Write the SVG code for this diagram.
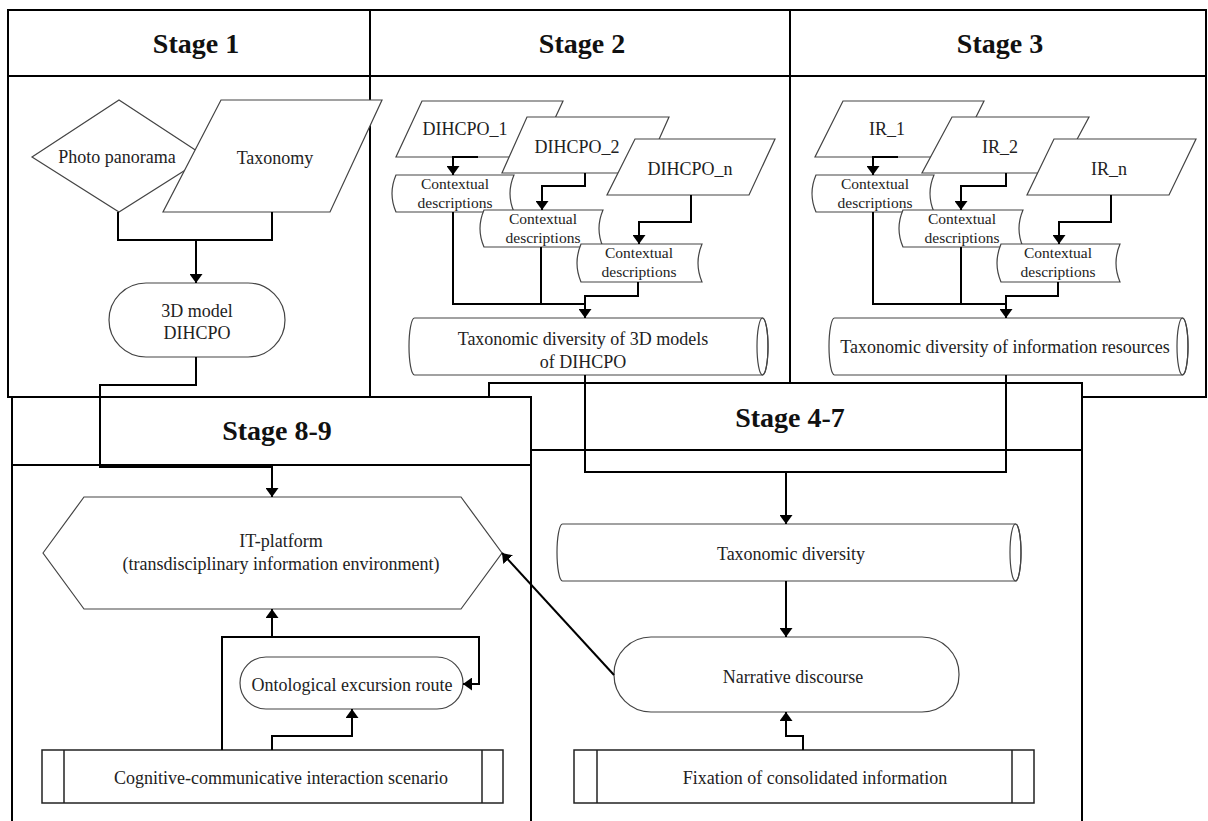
<svg xmlns="http://www.w3.org/2000/svg" width="1208" height="821" viewBox="0 0 1208 821">
<style>
.frame{fill:#fff;stroke:#000;stroke-width:2}
.hl{fill:none;stroke:#000;stroke-width:2}
.shape{fill:#fff;stroke:#444;stroke-width:1.2}
.pp{fill:#fff;stroke:#222;stroke-width:1.5}
.conn{fill:none;stroke:#000;stroke-width:2}
.title{font-family:"Liberation Serif",serif;font-weight:bold;font-size:28px;fill:#111;text-anchor:middle}
.lbl{font-family:"Liberation Serif",serif;font-size:18px;fill:#222;text-anchor:middle}
.sm{font-family:"Liberation Serif",serif;font-size:15.5px;fill:#222;text-anchor:middle}
</style>
<defs>
<marker id="arr" viewBox="0 0 10 10" refX="10" refY="5" markerWidth="9" markerHeight="13" markerUnits="userSpaceOnUse" orient="auto" preserveAspectRatio="none">
<path d="M0,0 L10,5 L0,10 Z" fill="#000"/>
</marker>
</defs>
<rect width="1208" height="821" fill="#fff"/>

<g id="stage1">
<rect class="frame" x="8" y="10" width="362" height="387"/>
<line class="hl" x1="8" y1="76" x2="370" y2="76"/>
<text class="title" x="196" y="53">Stage 1</text>
</g>
<g id="stage2">
<rect class="frame" x="370" y="10" width="420" height="387"/>
<line class="hl" x1="370" y1="76" x2="790" y2="76"/>
<text class="title" x="582" y="53">Stage 2</text>
</g>
<g id="stage3">
<rect class="frame" x="790" y="10" width="416" height="387"/>
<line class="hl" x1="790" y1="76" x2="1206" y2="76"/>
<text class="title" x="1000" y="53">Stage 3</text>
</g>
<g id="stage4-7">
<rect class="frame" x="489" y="383" width="593" height="450"/>
<line class="hl" x1="489" y1="450" x2="1082" y2="450"/>
<text class="title" x="790" y="427">Stage 4-7</text>
</g>
<g id="stage8-9">
<rect class="frame" x="12" y="397" width="519" height="436"/>
<line class="hl" x1="12" y1="465" x2="531" y2="465"/>
<text class="title" x="277" y="440">Stage 8-9</text>
</g>

<g id="photo-panorama">
<polygon class="shape" points="32,157 119,100 206,157 119,212"/>
<text class="lbl" x="117" y="163">Photo panorama</text>
</g>
<g id="taxonomy">
<polygon class="shape" points="221,100 382,100 330,212 163,212"/>
<text class="lbl" x="275" y="164">Taxonomy</text>
</g>
<g id="model-dihcpo">
<rect class="shape" x="109" y="283" width="176" height="74" rx="37" ry="37"/>
<text class="lbl" x="197" y="317">3D model</text>
<text class="lbl" x="197" y="339">DIHCPO</text>
</g>

<g id="dihcpo1">
<polygon class="shape" points="422,101 563,101 537,157 396,157"/>
<text class="lbl" x="465" y="135">DIHCPO_1</text>
</g>
<g id="dihcpo2">
<polygon class="shape" points="527,117 669,117 644,173 502,173"/>
<text class="lbl" x="577" y="153">DIHCPO_2</text>
</g>
<g id="dihcpon">
<polygon class="shape" points="635,139 775,139 749,195 607,195"/>
<text class="lbl" x="690" y="175">DIHCPO_n</text>
</g>
<g id="cd-s2-1">
<path class="shape" d="M396,175 H514 Q506,193.5 514,212 H396 Q388,193.5 396,175 Z"/>
<text class="sm" x="455" y="189">Contextual</text>
<text class="sm" x="455" y="208">descriptions</text>
</g>
<g id="cd-s2-2">
<path class="shape" d="M484,210 H603 Q595,228.5 603,247 H484 Q476,228.5 484,210 Z"/>
<text class="sm" x="543" y="224">Contextual</text>
<text class="sm" x="543" y="243">descriptions</text>
</g>
<g id="cd-s2-3">
<path class="shape" d="M581,244 H702 Q694,263 702,282 H581 Q573,263 581,244 Z"/>
<text class="sm" x="639" y="258">Contextual</text>
<text class="sm" x="639" y="277">descriptions</text>
</g>
<g id="tax-3d">
<path class="shape" d="M414.5,318 H762.5 A5.5,28.5 0 0 1 762.5,375 H414.5 A5.5,28.5 0 0 1 414.5,318 Z"/>
<ellipse cx="762.5" cy="346.5" rx="5.5" ry="28.5" fill="none" stroke="#444" stroke-width="1.2"/>
<text class="lbl" x="583" y="345">Taxonomic diversity of 3D models</text>
<text class="lbl" x="583" y="368">of  DIHCPO</text>
</g>

<g id="ir1">
<polygon class="shape" points="843,101 984,101 956,157 815,157"/>
<text class="lbl" x="887" y="135">IR_1</text>
</g>
<g id="ir2">
<polygon class="shape" points="952,117 1089,117 1059,173 922,173"/>
<text class="lbl" x="1000" y="153">IR_2</text>
</g>
<g id="irn">
<polygon class="shape" points="1054,139 1196,139 1169,195 1027,195"/>
<text class="lbl" x="1109" y="175">IR_n</text>
</g>
<g id="cd-s3-1">
<path class="shape" d="M816,175 H934 Q926,193.5 934,212 H816 Q808,193.5 816,175 Z"/>
<text class="sm" x="875" y="189">Contextual</text>
<text class="sm" x="875" y="208">descriptions</text>
</g>
<g id="cd-s3-2">
<path class="shape" d="M903,210 H1023 Q1015,228.5 1023,247 H903 Q895,228.5 903,210 Z"/>
<text class="sm" x="962" y="224">Contextual</text>
<text class="sm" x="962" y="243">descriptions</text>
</g>
<g id="cd-s3-3">
<path class="shape" d="M1001,244 H1120 Q1112,263 1120,282 H1001 Q993,263 1001,244 Z"/>
<text class="sm" x="1058" y="258">Contextual</text>
<text class="sm" x="1058" y="277">descriptions</text>
</g>
<g id="tax-ir">
<path class="shape" d="M834.5,318 H1182.5 A5.5,28.5 0 0 1 1182.5,375 H834.5 A5.5,28.5 0 0 1 834.5,318 Z"/>
<ellipse cx="1182.5" cy="346.5" rx="5.5" ry="28.5" fill="none" stroke="#444" stroke-width="1.2"/>
<text class="lbl" x="1005" y="353">Taxonomic diversity of information resources</text>
</g>

<g id="tax-div">
<path class="shape" d="M562.5,524 H1015.5 A5.5,28.5 0 0 1 1015.5,581 H562.5 A5.5,28.5 0 0 1 562.5,524 Z"/>
<ellipse cx="1015.5" cy="552.5" rx="5.5" ry="28.5" fill="none" stroke="#444" stroke-width="1.2"/>
<text class="lbl" x="791" y="560">Taxonomic diversity</text>
</g>
<g id="narrative">
<rect class="shape" x="614" y="637" width="345" height="75" rx="37" ry="37"/>
<text class="lbl" x="793" y="683">Narrative discourse</text>
</g>
<g id="fixation">
<rect class="pp" x="574" y="750" width="460" height="53"/>
<line class="pp" x1="597" y1="750" x2="597" y2="803"/>
<line class="pp" x1="1012" y1="750" x2="1012" y2="803"/>
<text class="lbl" x="815" y="784">Fixation of consolidated information</text>
</g>

<g id="it-platform">
<polygon class="shape" points="43,553 84,497 461,497 502,553 461,609 84,609"/>
<text class="lbl" x="281" y="547">IT-platform</text>
<text class="lbl" x="281" y="570">(transdisciplinary information environment)</text>
</g>
<g id="ontological">
<rect class="shape" x="240" y="657" width="223" height="52" rx="26" ry="26"/>
<text class="lbl" x="352" y="691">Ontological excursion route</text>
</g>
<g id="cognitive">
<rect class="pp" x="42" y="750" width="461" height="53"/>
<line class="pp" x1="64" y1="750" x2="64" y2="803"/>
<line class="pp" x1="482" y1="750" x2="482" y2="803"/>
<text class="lbl" x="281" y="784">Cognitive-communicative interaction scenario</text>
</g>

<g id="connectors">
<path class="conn" d="M118,212 V240 H272 V212"/>
<path class="conn" d="M196,240 V283" marker-end="url(#arr)"/>
<path class="conn" d="M196,357 V385 H100 V467 H272 V497" marker-end="url(#arr)"/>

<path class="conn" d="M478,157 H453 V175" marker-end="url(#arr)"/>
<path class="conn" d="M585,173 V186 H542 V210" marker-end="url(#arr)"/>
<path class="conn" d="M691,195 V222 H639 V244" marker-end="url(#arr)"/>
<path class="conn" d="M453,212 V304 H585"/>
<path class="conn" d="M541,247 V304"/>
<path class="conn" d="M638,282 V296 H585 V318" marker-end="url(#arr)"/>

<path class="conn" d="M898,157 H873 V175" marker-end="url(#arr)"/>
<path class="conn" d="M1006,173 V186 H961 V210" marker-end="url(#arr)"/>
<path class="conn" d="M1111,195 V222 H1059 V244" marker-end="url(#arr)"/>
<path class="conn" d="M873,212 V304 H1006"/>
<path class="conn" d="M961,247 V304"/>
<path class="conn" d="M1058,282 V296 H1006 V318" marker-end="url(#arr)"/>

<path class="conn" d="M585,375 V472 H1006 V375"/>
<path class="conn" d="M786,472 V524" marker-end="url(#arr)"/>
<path class="conn" d="M786,581 V637" marker-end="url(#arr)"/>
<path class="conn" d="M803,750 V736 H786 V712" marker-end="url(#arr)"/>
<path class="conn" d="M614,675 L502,553" marker-end="url(#arr)"/>

<path class="conn" d="M222,750 V637 H479 V684 H463" marker-end="url(#arr)"/>
<path class="conn" d="M272,637 V609" marker-end="url(#arr)"/>
<path class="conn" d="M272,750 V736 H352 V709" marker-end="url(#arr)"/>
</g>
</svg>
